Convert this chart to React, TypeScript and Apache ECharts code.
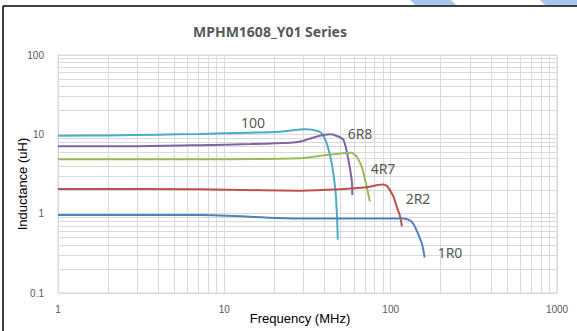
import React, { useEffect, useRef } from "react";
import * as echarts from "echarts";

// Frequency (MHz) / Inductance (uH)
const freq100 = [1, 2, 4, 7.1, 14.3, 21.6, 31, 36, 38.5, 41.3, 44.2, 46.3, 47.4, 48.1];
const ind100 = [9.6, 9.7, 9.9, 10.1, 10.5, 10.8, 11.6, 11.1, 10.3, 7.7, 4.3, 2.2, 1.1, 0.47];

const freq6R8 = [1, 3, 7.1, 14.3, 24.9, 28.5, 36, 43.2, 47, 52, 55.7, 58.3, 58.8];
const ind6R8 = [7.08, 7.1, 7.3, 7.55, 7.85, 8.1, 9.4, 10.0, 9.6, 8.5, 4.75, 2.66, 1.72];

const freq4R7 = [1, 7.1, 28.5, 41, 50, 58.3, 61, 62.5, 67, 71.7, 75];
const ind4R7 = [4.85, 4.85, 5.0, 5.5, 5.75, 5.88, 5.5, 5.24, 3.9, 2.2, 1.42];

const freq2R2 = [1, 7.1, 28.5, 49.6, 71.7, 89.6, 94.8, 98.7, 104, 108.8, 114, 116.8];
const ind2R2 = [2.05, 2.03, 1.95, 2.03, 2.15, 2.33, 2.24, 1.99, 1.64, 1.22, 0.92, 0.69];

const freq1R0 = [1, 7.1, 28.5, 90, 119, 130, 137, 143, 154, 160];
const ind1R0 = [0.96, 0.96, 0.87, 0.87, 0.87, 0.83, 0.74, 0.62, 0.42, 0.28];

const seriesNames = ["100", "6R8", "4R7", "2R2", "1R0"];
const seriesColors = ["#4bacc6", "#8064a2", "#9bbb59", "#c0504d", "#4f81bd"];

const minorX = [2, 3, 4, 5, 6, 7, 8, 9, 20, 30, 40, 50, 60, 70, 80, 90, 200, 300, 400, 500, 600, 700, 800, 900];
const minorY = [0.2, 0.3, 0.4, 0.5, 0.6, 0.7, 0.8, 0.9, 2, 3, 4, 5, 6, 7, 8, 9, 20, 30, 40, 50, 60, 70, 80, 90];

const zip = (xs: number[], ys: number[]) => xs.map((x, i) => [x, ys[i]]);

export default function App() {
  const ref = useRef<HTMLDivElement>(null);
  useEffect(() => {
    if (!ref.current) return;
    const chart = echarts.init(ref.current, undefined, { renderer: "svg" });
    const datasets = [
      zip(freq100, ind100),
      zip(freq6R8, ind6R8),
      zip(freq4R7, ind4R7),
      zip(freq2R2, ind2R2),
      zip(freq1R0, ind1R0),
    ];
    const labelPos = [
      [253, 122],
      [360, 133],
      [383, 168],
      [418, 198],
      [450, 252],
    ];
    const tickFont = { fontFamily: "Liberation Sans", fontSize: 10, color: "#595959" };
    chart.setOption({
      animation: false,
      title: {
        text: "MPHM1608_Y01 Series",
        left: 265,
        top: 19,
        textAlign: "center",
        textStyle: { fontFamily: "Noto Sans", fontSize: 14, fontWeight: "bold", color: "#595959" },
      },
      grid: {
        left: 58,
        top: 55,
        width: 499,
        height: 238,
        show: true,
        borderColor: "#d9d9d9",
        borderWidth: 1,
      },
      xAxis: {
        type: "log",
        logBase: 10,
        min: 1,
        max: 1000,
        axisLine: { show: true, lineStyle: { color: "#d9d9d9" } },
        axisTick: { show: false },
        splitLine: { show: true, lineStyle: { color: "#d9d9d9", width: 1 } },
        axisLabel: { ...tickFont, margin: 11, formatter: (v: number) => String(v) },
      },
      yAxis: {
        type: "log",
        logBase: 10,
        min: 0.1,
        max: 100,
        axisLine: { show: true, lineStyle: { color: "#d9d9d9" } },
        axisTick: { show: false },
        splitLine: { show: true, lineStyle: { color: "#d9d9d9", width: 1 } },
        axisLabel: { ...tickFont, margin: 14, formatter: (v: number) => String(Math.round(v * 10) / 10) },
      },
      series: [
        {
          type: "line",
          name: "grid",
          data: [[1, 0.1]],
          showSymbol: false,
          symbol: "none",
          lineStyle: { opacity: 0 },
          silent: true,
          z: 0,
          markLine: {
            z: 0,
            silent: true,
            symbol: ["none", "none"],
            label: { show: false },
            emphasis: { disabled: true },
            lineStyle: { color: "#d9d9d9", type: "solid", width: 1 },
            data: [
              ...minorX.map((v) => ({ xAxis: v })),
              ...minorY.map((v) => ({ yAxis: v })),
            ],
          },
        },
        ...datasets.map((d, i) => ({
          type: "line",
          name: seriesNames[i],
          data: d,
          smooth: 0.3,
          showSymbol: false,
          symbol: "none",
          z: 6,
          lineStyle: { color: seriesColors[i], width: 2 },
          itemStyle: { color: seriesColors[i] },
        })),
      ],
      graphic: [
        ...seriesNames.map((n, i) => ({
          type: "text",
          x: labelPos[i][0],
          y: labelPos[i][1],
          z: 10,
          style: {
            text: n,
            fontFamily: "Noto Sans",
            fontSize: 14,
            fill: "#595959",
            textAlign: "center",
            textVerticalAlign: "middle",
          },
        })),
        {
          type: "text",
          x: 300,
          y: 318,
          style: {
            text: "Frequency (MHz)",
            fontFamily: "Liberation Sans",
            fontSize: 13,
            fill: "#000000",
            textAlign: "center",
            textVerticalAlign: "middle",
          },
        },
        {
          type: "text",
          x: 22,
          y: 184,
          rotation: Math.PI / 2,
          style: {
            text: "Inductance (uH)",
            fontFamily: "Liberation Sans",
            fontSize: 13,
            fill: "#000000",
            textAlign: "center",
            textVerticalAlign: "middle",
          },
        },
        {
          type: "line",
          shape: { x1: 3, y1: 6, x2: 577, y2: 6 },
          style: { stroke: "#000000", lineWidth: 1.5 },
        },
        {
          type: "line",
          shape: { x1: 3, y1: 6, x2: 3, y2: 331 },
          style: { stroke: "#000000", lineWidth: 1.5 },
        },
        {
          type: "polygon",
          shape: { points: [[410, 0], [451, 0], [456, 5], [415, 5]] },
          style: { fill: "#a9c6ee" },
        },
        {
          type: "polygon",
          shape: { points: [[540, 0], [577, 0], [577, 5], [545, 5]] },
          style: { fill: "#a9c6ee" },
        },
      ],
    });
    return () => chart.dispose();
  }, []);
  return (
    <div
      ref={ref}
      style={{ position: "fixed", left: 0, top: 0, width: 577, height: 331, background: "#ffffff" }}
    />
  );
}
